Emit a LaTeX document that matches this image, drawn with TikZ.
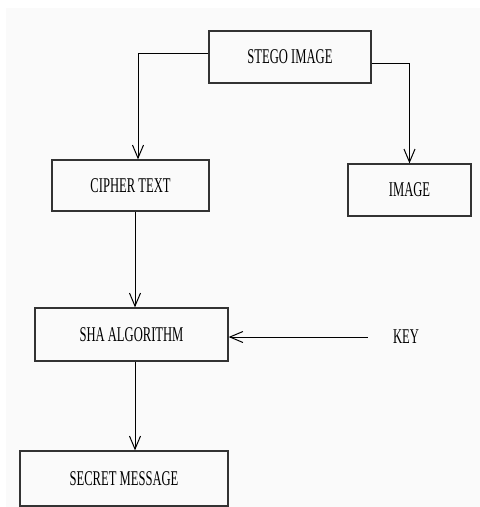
\documentclass[tikz,border=0pt]{standalone}
\usepackage{fontspec}
\setmainfont[FakeStretch=0.6]{Liberation Serif}
\usetikzlibrary{arrows.meta}
\usetikzlibrary{calc}

\tikzset{
	box/.style 2 args={draw=black!80, line width=1.3pt, minimum width=#1, minimum height=#2, inner sep=0pt},
	flow/.style={line width=1pt, -{Straight Barb[length=13pt,width=11pt]}},
	every node/.style={font=\fontsize{21}{24}\selectfont}
}

\begin{document}
\begin{tikzpicture}[x=1pt,y=-1pt]
	% canvas 480 x 507, y going down
	\useasboundingbox (0,0) rectangle (480,507);
	\fill[black!2] (6,8) rectangle (480,507);
	
	% boxes
	\node[box={162pt}{52pt}] (stego) at (290,57) {STEGO IMAGE};
	\node[box={157pt}{51pt}] (cipher) at (130.5,185.5) {CIPHER TEXT};
	\node[box={123pt}{52pt}] (image) at (409.5,190) {IMAGE};
	\node[box={193pt}{53pt}] (sha) at (131.5,334.5) {SHA ALGORITHM};
	\node[box={208pt}{55pt}] (secret) at (124,478.5) {SECRET MESSAGE};
	\node (key) at (406,337) {KEY};
	
	% column of the vertical connectors
	\coordinate (col) at (135,0);
	
	% connectors
	\draw[flow] ([yshift=4pt]stego.west) -| ([xshift=7.5pt]cipher.north);
	\draw[flow] ([yshift=-6pt]stego.east) -| (image.north);
	\draw[flow] (cipher.south -| col) -- (sha.north -| col);
	\draw[flow] ([xshift=-22pt]key.west) -- (sha.east |- key);
	\draw[flow] (sha.south -| col) -- (secret.north -| col);
\end{tikzpicture}
\end{document}
